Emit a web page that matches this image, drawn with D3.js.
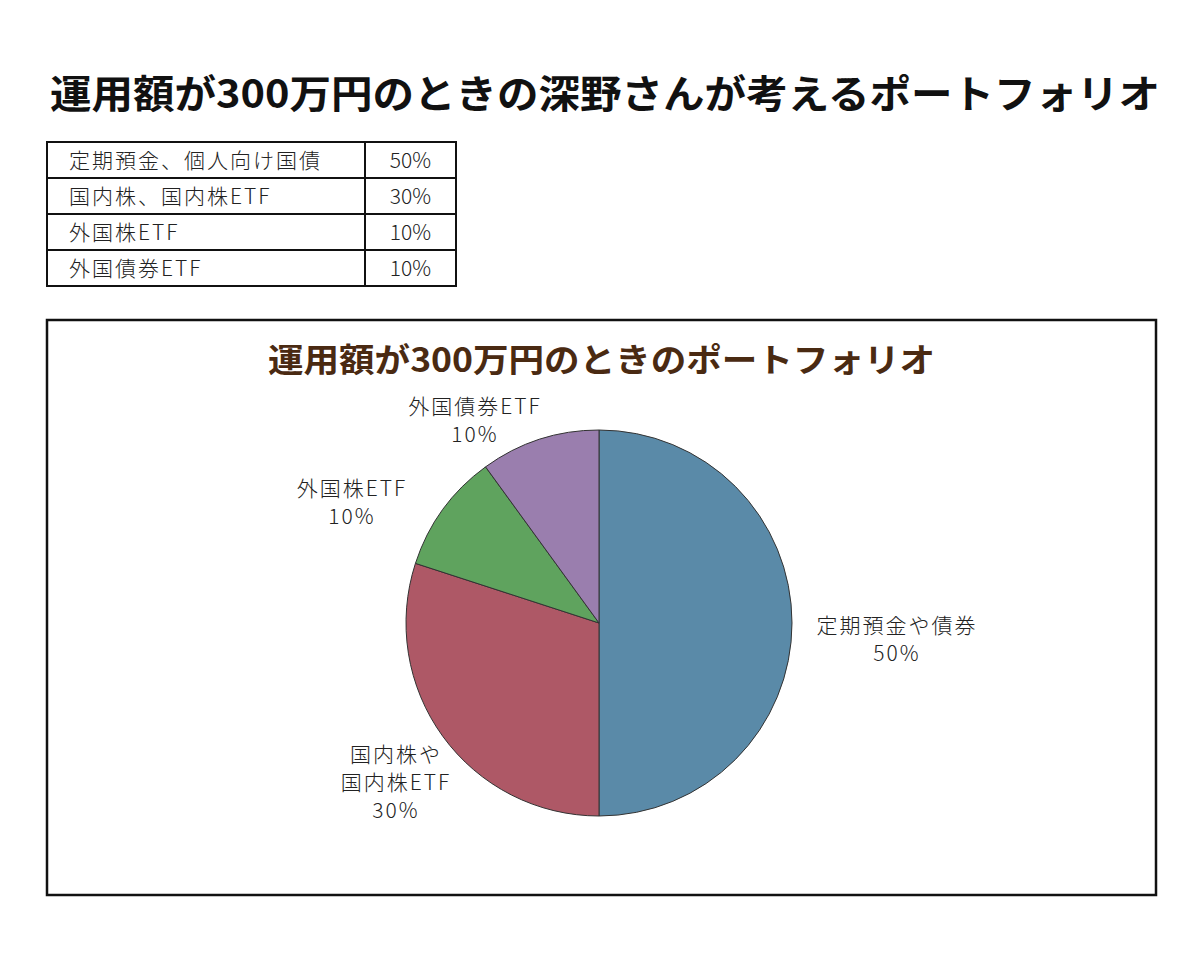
<!DOCTYPE html>
<html><head><meta charset="utf-8">
<script src="https://cdn.jsdelivr.net/npm/d3@7"></script>
<style>body{margin:0;background:#fff}</style></head>
<body><svg id="c" width="1200" height="973"></svg>
<script>
const tableLabels=["定期預金、個人向け国債","国内株、国内株ETF","外国株ETF","外国債券ETF"];
const tableValues=["50%","30%","10%","10%"];
const sliceLabels=[["定期預金や債券","50%"],["国内株や","国内株ETF","30%"],["外国株ETF","10%"],["外国債券ETF","10%"]];
const sliceValues=[50,30,10,10];
const colors=["#5a8aa8","#ae5866","#5fa35e","#9a7eae"];
const font="'Noto Sans CJK JP','Noto Sans',sans-serif";
const svg=d3.select("#c");
svg.append("text").attr("x",50).attr("y",108).attr("font-family",font).attr("font-weight","bold").attr("font-size",39).attr("fill","#111").attr("textLength",1110).attr("lengthAdjust","spacingAndGlyphs").text("運用額が300万円のときの深野さんが考えるポートフォリオ");
const tg=svg.append("g");
const rowH=36,y0=142,x0=47,xd=365,x1=456;
tableLabels.forEach((l,i)=>{
 const y=y0+i*rowH;
 tg.append("rect").attr("x",x0).attr("y",y).attr("width",x1-x0).attr("height",rowH).attr("fill","none").attr("stroke","#111").attr("stroke-width",2);
 tg.append("line").attr("x1",xd).attr("x2",xd).attr("y1",y).attr("y2",y+rowH).attr("stroke","#111").attr("stroke-width",2);
 tg.append("text").attr("x",x0+22).attr("y",y+26).attr("font-family",font).attr("font-weight",300).attr("font-size",21).attr("letter-spacing",2).attr("fill","#222").text(l);
 tg.append("text").attr("x",(xd+x1)/2).attr("y",y+26).attr("text-anchor","middle").attr("font-family",font).attr("font-weight",300).attr("font-size",21).attr("fill","#222").text(tableValues[i]);
});
svg.append("rect").attr("x",47).attr("y",320).attr("width",1109).attr("height",575).attr("fill","none").attr("stroke","#111").attr("stroke-width",2.5);
svg.append("text").attr("x",268).attr("y",372).attr("font-family",font).attr("font-weight","bold").attr("font-size",33).attr("fill","#4a2a12").attr("textLength",667).attr("lengthAdjust","spacingAndGlyphs").text("運用額が300万円のときのポートフォリオ");
const cx=599,cy=623,r=193;
const pie=d3.pie().sort(null)(sliceValues);
const arc=d3.arc().innerRadius(0).outerRadius(r);
const g=svg.append("g").attr("transform",`translate(${cx},${cy})`);
g.selectAll("path").data(pie).join("path").attr("d",arc).attr("fill",(d,i)=>colors[i]).attr("stroke","#333").attr("stroke-width",1);
const lpos=[[897,633],[396,762],[352,496],[475,414]];
sliceLabels.forEach((ls,i)=>{
 const t=svg.append("text").attr("text-anchor","middle").attr("font-family",font).attr("font-weight",300).attr("font-size",21).attr("letter-spacing",2).attr("fill","#222");
 ls.forEach((s,j)=>t.append("tspan").attr("x",lpos[i][0]).attr("y",lpos[i][1]+j*28).text(s));
});
</script></body></html>
